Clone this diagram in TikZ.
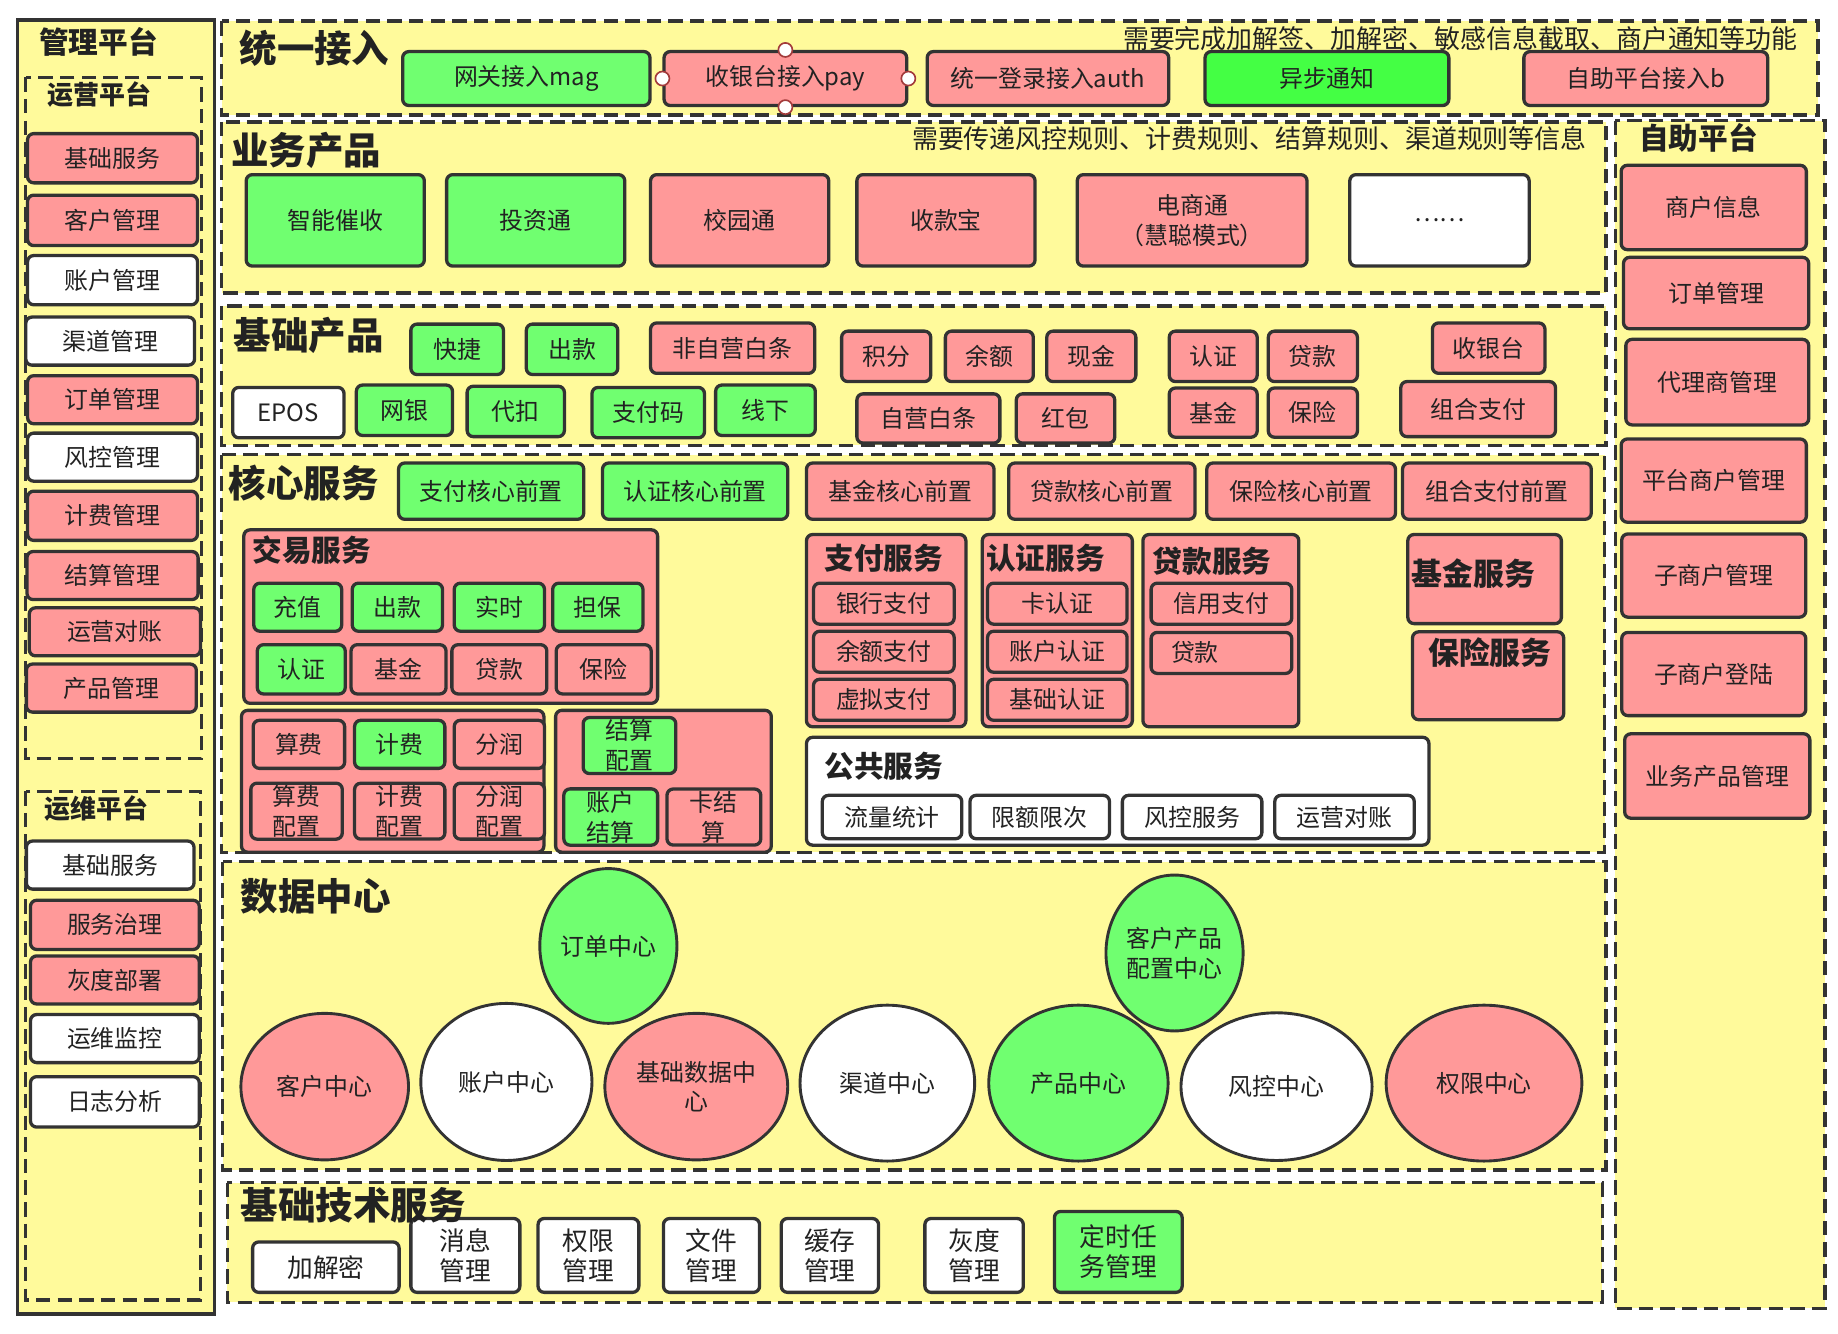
\documentclass[tikz,border=0pt]{standalone}
\usepackage{fontspec}
\setmainfont{Noto Sans CJK SC}
\usepackage{tikz}
\usetikzlibrary{shapes.geometric}

\definecolor{ylw}{HTML}{FFFA9B}
\definecolor{pnk}{HTML}{FF9999}
\definecolor{grn}{HTML}{70FF70}
\definecolor{vivid}{HTML}{44FF44}
\definecolor{edge}{HTML}{333333}
\definecolor{ink}{HTML}{222222}
\definecolor{hdl}{HTML}{A33B3B}

\begin{document}
\begin{tikzpicture}[
  x=0.02cm, y=-0.02cm,
  font=\fontsize{11.6}{14.5}\selectfont, text=ink,
  area/.style={draw=edge, line width=1.6pt, dash pattern=on 7pt off 3.5pt, fill=ylw},
  frame/.style={draw=edge, line width=1.6pt, fill=ylw},
  pane/.style={draw=edge, line width=1.6pt, rounded corners=3pt},
  box/.style={draw=edge, line width=1.6pt, rounded corners=3pt, align=center, inner sep=1pt},
  rd/.style={box, fill=pnk},
  gn/.style={box, fill=grn},
  wt/.style={box, fill=white},
  wh/.style 2 args={minimum width=#1*0.02cm, minimum height=#2*0.02cm},
  blob/.style={ellipse, draw=edge, line width=1.4pt, align=center, inner sep=0pt},
  hbig/.style={anchor=west, inner sep=0pt, font=\fontsize{18.2}{20}\selectfont\bfseries},
  hmid/.style={anchor=west, inner sep=0pt, font=\fontsize{14.4}{16}\selectfont\bfseries},
  hsmall/.style={anchor=west, inner sep=0pt, font=\fontsize{12.6}{14}\selectfont\bfseries},
  note/.style={anchor=east, inner sep=0pt, font=\fontsize{12.6}{15}\selectfont},
  tech/.style={font=\fontsize{12.5}{14.5}\selectfont},
  handle/.style={circle, draw=hdl, fill=white, line width=0.8pt, minimum size=0.24cm, inner sep=0pt}
]
  \fill[white] (0,0) rectangle (1568,1138);
  \useasboundingbox (0,0) rectangle (1568,1138);

  % management platform (left)
  \draw[frame] (15,17) rectangle (183,1121);
  \node[hmid] (mgmt) at (33,36) {管理平台};
  \draw[area] (22,66) rectangle (172,647);
  \node[hsmall] (ops) at (40,81) {运营平台};
  \node[rd, wh={145}{42}] (op1) at (96,135) {基础服务};
  \node[rd, wh={145}{43}] (op2) at (96,188) {客户管理};
  \node[wt, wh={145}{42}] (op3) at (96,239) {账户管理};
  \node[wt, wh={144}{41}] (op4) at (94,291) {渠道管理};
  \node[rd, wh={145}{41}] (op5) at (96,341) {订单管理};
  \node[wt, wh={145}{41}] (op6) at (96,390) {风控管理};
  \node[rd, wh={145}{42}] (op7) at (96,440) {计费管理};
  \node[rd, wh={146}{41}] (op8) at (96,491) {结算管理};
  \node[rd, wh={146}{41}] (op9) at (98,539) {运营对账};
  \node[rd, wh={145}{41}] (op10) at (95,587) {产品管理};
  \draw[area] (22,675) rectangle (171,1109);
  \node[hsmall] (devops) at (38,690) {运维平台};
  \node[wt, wh={143}{41}] (dv1) at (94,738) {基础服务};
  \node[rd, wh={144}{42}] (dv2) at (98,789) {服务治理};
  \node[rd, wh={144}{41}] (dv3) at (98,836) {灰度部署};
  \node[wt, wh={144}{41}] (dv4) at (98,886) {运维监控};
  \node[wt, wh={144}{43}] (dv5) at (98,940) {日志分析};

  % unified access
  \draw[area] (189,18) rectangle (1551,98);
  \node[hbig] (access) at (204,41) {统一接入};
  \node[note] (accnote) at (1534,33) {需要完成加解签、加解密、敏感信息截取、商户通知等功能};
  \node[gn, wh={211}{46}] (gw1) at (449,67) {网关接入mag};
  \node[rd, wh={207}{46}] (gw2) at (670,67) {收银台接入pay};
  \node[rd, wh={206}{46}] (gw3) at (894,67) {统一登录接入auth};
  \node[box, fill=vivid, wh={208}{46}] (gw4) at (1132,67) {异步通知};
  \node[rd, wh={208}{46}] (gw5) at (1404,67) {自助平台接入b};
  \node[handle] (h1) at (gw2.north) {};
  \node[handle] (h2) at (gw2.south) {};
  \node[handle] (h3) at (gw2.west) {};
  \node[handle] (h4) at (gw2.east) {};

  % business products
  \draw[area] (189,104) rectangle (1370,250);
  \node[hbig] (biz) at (197,128) {业务产品};
  \node[note] (biznote) at (1354,118) {需要传递风控规则、计费规则、结算规则、渠道规则等信息};
  \node[gn, wh={152}{78}] (bp1) at (286,188) {智能催收};
  \node[gn, wh={152}{78}] (bp2) at (457,188) {投资通};
  \node[rd, wh={152}{78}] (bp3) at (631,188) {校园通};
  \node[rd, wh={152}{78}] (bp4) at (807,188) {收款宝};
  \node[rd, wh={196}{78}] (bp5) at (1017,188) {电商通\\（慧聪模式）};
  \node[wt, wh={153}{78}] (bp6) at (1228,188) {\raisebox{-0.25ex}{……}};

  % basic products
  \draw[area] (189,261) rectangle (1370,380);
  \node[hbig] (base) at (199,286) {基础产品};
  \node[gn, wh={79}{43}] (fp1) at (390,298) {快捷};
  \node[gn, wh={78}{43}] (fp2) at (488,298) {出款};
  \node[rd, wh={140}{43}] (fp3) at (625,297) {非自营白条};
  \node[rd, wh={76}{43}] (fp4) at (756,304) {积分};
  \node[rd, wh={75}{43}] (fp5) at (844,304) {余额};
  \node[rd, wh={76}{43}] (fp6) at (931,304) {现金};
  \node[rd, wh={75}{43}] (fp7) at (1035,304) {认证};
  \node[rd, wh={76}{43}] (fp8) at (1120,304) {贷款};
  \node[rd, wh={96}{43}] (fp9) at (1270,297) {收银台};
  \node[wt, wh={95}{43}] (fp10) at (246,352) {EPOS};
  \node[gn, wh={82}{43}] (fp11) at (345,350) {网银};
  \node[gn, wh={83}{43}] (fp12) at (440,351) {代扣};
  \node[gn, wh={96}{43}] (fp13) at (553,352) {支付码};
  \node[gn, wh={85}{43}] (fp14) at (653,350) {线下};
  \node[rd, wh={122}{42}] (fp15) at (792,357) {自营白条};
  \node[rd, wh={84}{42}] (fp16) at (909,357) {红包};
  \node[rd, wh={75}{42}] (fp17) at (1035,352) {基金};
  \node[rd, wh={76}{42}] (fp18) at (1120,352) {保险};
  \node[rd, wh={132}{47}] (fp19) at (1261,349) {组合支付};

  % core services
  \draw[area] (189,388) rectangle (1369,727);
  \node[hbig] (core) at (195,412) {核心服务};
  \node[gn, wh={158}{48}] (cf1) at (419,419) {支付核心前置};
  \node[gn, wh={158}{48}] (cf2) at (593,419) {认证核心前置};
  \node[rd, wh={160}{48}] (cf3) at (768,419) {基金核心前置};
  \node[rd, wh={159}{48}] (cf4) at (940,419) {贷款核心前置};
  \node[rd, wh={161}{48}] (cf5) at (1110,419) {保险核心前置};
  \node[rd, wh={161}{48}] (cf6) at (1277,419) {组合支付前置};

  % trade services
  \draw[pane, fill=pnk] (208,452) rectangle (561,600);
  \node[hmid] (trade) at (215,469) {交易服务};
  \node[gn, wh={75}{41}] (tx1) at (254,518) {充值};
  \node[gn, wh={77}{41}] (tx2) at (339,518) {出款};
  \node[gn, wh={77}{41}] (tx3) at (426,518) {实时};
  \node[gn, wh={77}{41}] (tx4) at (510,518) {担保};
  \node[gn, wh={75}{42}] (tx5) at (257,571) {认证};
  \node[rd, wh={81}{42}] (tx6) at (340,571) {基金};
  \node[rd, wh={81}{42}] (tx7) at (426,571) {贷款};
  \node[rd, wh={81}{42}] (tx8) at (515,571) {保险};

  % fees and settlement
  \draw[pane, fill=pnk] (206,606) rectangle (464,727);
  \node[rd, wh={78}{41}] (fe1) at (255,635) {算费};
  \node[gn, wh={77}{41}] (fe2) at (341,635) {计费};
  \node[rd, wh={77}{41}] (fe3) at (426,635) {分润};
  \node[rd, wh={78}{45}] (fe4) at (253,692) {算费\\配置};
  \node[rd, wh={77}{45}] (fe5) at (341,692) {计费\\配置};
  \node[rd, wh={77}{45}] (fe6) at (426,692) {分润\\配置};
  \draw[pane, fill=pnk] (474,606) rectangle (658,727);
  \node[gn, wh={79}{44}] (st1) at (537,636) {结算\\配置};
  \node[gn, wh={80}{48}] (st2) at (521,697) {账户\\结算};
  \node[rd, wh={80}{44}] (st3) at (609,697) {卡结\\算};

  % payment / auth / loan services
  \draw[pane, fill=pnk] (688,456) rectangle (824,620);
  \node[hmid] (paysvc) at (703,476) {支付服务};
  \node[rd, wh={120}{35}] (pay1) at (754,515) {银行支付};
  \node[rd, wh={120}{35}] (pay2) at (754,556) {余额支付};
  \node[rd, wh={120}{35}] (pay3) at (754,597) {虚拟支付};
  \draw[pane, fill=pnk] (838,456) rectangle (966,620);
  \node[hmid] (authsvc) at (841,476) {认证服务};
  \node[rd, wh={119}{35}] (au1) at (902,515) {卡认证};
  \node[rd, wh={119}{35}] (au2) at (902,556) {账户认证};
  \node[rd, wh={119}{35}] (au3) at (902,597) {基础认证};
  \draw[pane, fill=pnk] (975,456) rectangle (1108,620);
  \node[hmid] (loansvc) at (983,479) {贷款服务};
  \node[rd, wh={120}{35}] (ln1) at (1042,515) {信用支付};
  \node[rd, wh={120}{35}, text width=1.72cm, align=left] (ln2) at (1042,557) {贷款};

  % fund / insurance services
  \draw[pane, fill=pnk] (1201,456) rectangle (1332,532);
  \node[hmid, font=\fontsize{15}{17}\selectfont\bfseries] (fundsvc) at (1204,489) {基金服务};
  \draw[pane, fill=pnk] (1205,539) rectangle (1334,614);
  \node[hmid, font=\fontsize{15}{17}\selectfont\bfseries] (inssvc) at (1218,557) {保险服务};

  % public services
  \draw[pane, fill=white] (688,629) rectangle (1219,721);
  \node[hmid] (pubsvc) at (703,654) {公共服务};
  \node[wt, wh={119}{37}] (pub1) at (761,697) {流量统计};
  \node[wt, wh={119}{37}] (pub2) at (887,697) {限额限次};
  \node[wt, wh={119}{37}] (pub3) at (1017,697) {风控服务};
  \node[wt, wh={119}{37}] (pub4) at (1147,697) {运营对账};

  % data center
  \draw[area] (190,735) rectangle (1370,998);
  \node[hbig] (data) at (205,765) {数据中心};
  \node[blob, fill=pnk, wh={143}{125}] (dc3) at (277,927) {客户中心};
  \node[blob, fill=white, wh={146}{134}] (dc4) at (432,923) {账户中心};
  \node[blob, fill=pnk, wh={156}{125}] (dc5) at (594,927) {基础数据中\\心};
  \node[blob, fill=white, wh={149}{133}] (dc6) at (757,924) {渠道中心};
  \node[blob, fill=grn, wh={153}{133}] (dc7) at (920,924) {产品中心};
  \node[blob, fill=white, wh={163}{126}] (dc8) at (1089,927) {风控中心};
  \node[blob, fill=pnk, wh={167}{133}] (dc9) at (1266,924) {权限中心};
  \node[blob, fill=grn, wh={117}{132}] (dc1) at (519,807) {订单中心};
  \node[blob, fill=grn, wh={117}{133}] (dc2) at (1002,813) {客户产品\\配置中心};

  % basic technical services
  \draw[area] (194,1009) rectangle (1367,1111);
  \node[wt, tech, wh={125}{43}] (tc1) at (278,1081) {加解密};
  \node[wt, tech, wh={93}{63}] (tc2) at (397,1071) {消息\\管理};
  \node[wt, tech, wh={86}{63}] (tc3) at (502,1071) {权限\\管理};
  \node[wt, tech, wh={82}{63}] (tc4) at (607,1071) {文件\\管理};
  \node[wt, tech, wh={83}{63}] (tc5) at (708,1071) {缓存\\管理};
  \node[wt, tech, wh={84}{63}] (tc6) at (831,1071) {灰度\\管理};
  \node[gn, tech, wh={109}{69}] (tc7) at (954,1068) {定时任\\务管理};
  \node[hbig] (techsvc) at (205,1028) {基础技术服务};

  % self-service platform (right)
  \draw[area] (1378,103) rectangle (1557,1116);
  \node[hmid] (selfsvc) at (1398,118) {自助平台};
  \node[rd, wh={158}{72}] (sp1) at (1462,177) {商户信息};
  \node[rd, wh={158}{61}] (sp2) at (1464,250) {订单管理};
  \node[rd, wh={156}{73}] (sp3) at (1465,326) {代理商管理};
  \node[rd, wh={158}{71}] (sp4) at (1462,410) {平台商户管理};
  \node[rd, wh={157}{71}] (sp5) at (1462,491) {子商户管理};
  \node[rd, wh={157}{71}] (sp6) at (1462,575) {子商户登陆};
  \node[rd, wh={158}{72}] (sp7) at (1465,662) {业务产品管理};
\end{tikzpicture}
\end{document}
